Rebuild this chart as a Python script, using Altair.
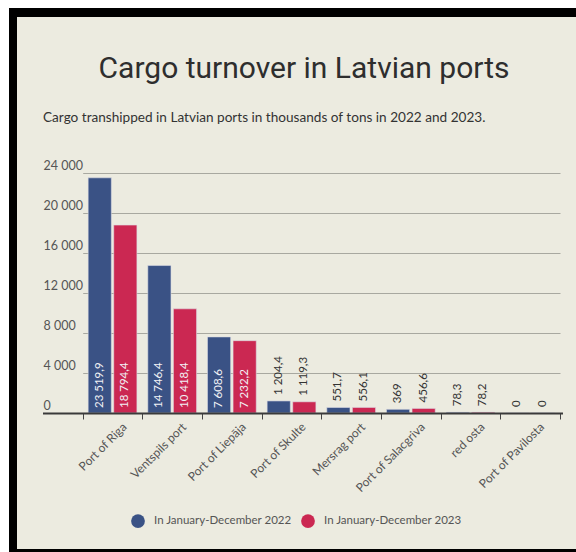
import altair as alt
import pandas as pd

# ---- data ----
ports = ["Port of Riga", "Ventspils port", "Port of Liepāja", "Port of Skulte",
         "Mersrag port", "Port of Salacgriva", "red osta", "Port of Pavilosta"]
values_2022 = [23519.9, 14746.4, 7608.6, 1204.4, 551.7, 369, 78.3, 0]
values_2023 = [18794.4, 10418.4, 7232.2, 1119.3, 556.1, 456.6, 78.2, 0]
series = ["In January-December 2022", "In January-December 2023"]
y_ticks = [0, 4000, 8000, 12000, 16000, 20000, 24000]
title_text = "Cargo turnover in Latvian ports"
subtitle_text = "Cargo transhipped in Latvian ports in thousands of tons in 2022 and 2023."

rows = []
for p, a, b in zip(ports, values_2022, values_2023):
    rows.append({"port": p, "series": series[0], "value": a})
    rows.append({"port": p, "series": series[1], "value": b})
df = pd.DataFrame(rows)

# ---- style ----
BLUE = "#3a5285"
RED = "#cb2852"
BG = "#ecebe0"
W, H = 520, 240
PAD = {"left": 43, "top": 173, "right": 13, "bottom": 139}

base = alt.Chart(df).transform_calculate(lab="datum.value")

x_axis = alt.Axis(title=None, domain=False, tickBand="extent", ticks=True,
                  tickSize=6, tickColor="#444", tickWidth=1,
                  labelAngle=-45, labelAlign="right", labelBaseline="top",
                  labelOffset=8, labelPadding=2, labelColor="#555",
                  labelFontSize=12, labelFont="Lato", grid=False,
                  labelOverlap=False)
x_scale = alt.Scale(range=[39.7, 517], paddingInner=0, paddingOuter=0)
x_enc = alt.X("port:N", sort=ports, scale=x_scale, axis=x_axis)

y_scale = alt.Scale(domain=[0, 24000], nice=False)
y_axis = alt.Axis(title=None, values=y_ticks, format=",.0f", domain=False,
                  ticks=False, tickSize=0, labelAlign="left", labelPadding=0,
                  labelBaseline="alphabetic", labelOffset=-4,
                  labelColor="#555", labelFontSize=12.5, labelFont="Lato",
                  labelOverlap=False,
                  grid=True, gridColor="#a8a8a0", gridWidth=1)
y_enc = alt.Y("value:Q", scale=y_scale, axis=y_axis)

xoff = alt.XOffset("series:N", sort=series,
                   scale=alt.Scale(paddingInner=0.094, paddingOuter=0.213))

bars = base.mark_bar(stroke="#dcdce4", strokeWidth=0.6).encode(
    x=x_enc, xOffset=xoff, y=y_enc,
    color=alt.Color("series:N",
                    scale=alt.Scale(domain=series, range=[BLUE, RED]),
                    legend=alt.Legend(title=None, orient="none", legendX=88,
                                      legendY=341, direction="horizontal",
                                      symbolType="circle", symbolSize=190,
                                      symbolStrokeWidth=0, labelFontSize=11.5,
                                      labelColor="#555", labelFont="Lato",
                                      columnPadding=9, labelOffset=9)),
)

label_text = alt.Text("lab:Q", format=",.1~f")

# large bars: label sits inside the bar, starting from the baseline
inside = base.transform_filter("datum.lab > 3000").transform_calculate(
    value="0"
).mark_text(
    angle=270, align="left", baseline="middle", dx=5,
    color="#f2f2f6", fontSize=11.5, font="Lato",
).encode(x=x_enc, xOffset=xoff, y=y_enc, text=label_text)

outside = base.transform_filter("datum.lab <= 3000").mark_text(
    angle=270, align="left", baseline="middle", dx=6,
    color="#333", fontSize=11.5, font="Lato",
).encode(x=x_enc, xOffset=xoff, y=y_enc, text=label_text)

one = pd.DataFrame({"k": [0]})

baseline_rule = alt.Chart(one).mark_rule(color="#3a3a3a", strokeWidth=2).encode(
    x=alt.value(0), x2=alt.value(W), y=alt.value(H + 0.5))

title = alt.Chart(pd.DataFrame({"t": [title_text]})).mark_text(
    align="center", baseline="alphabetic", fontSize=30,
    font="Roboto", fontWeight="normal",
    color="#2e2e2e",
).encode(x=alt.value(261), y=alt.value(-95), text="t:N")

subtitle = alt.Chart(pd.DataFrame({"t": [subtitle_text]})).mark_text(
    align="left", baseline="alphabetic", fontSize=13.6, font="Lato",
    color="#333",
).encode(x=alt.value(0), y=alt.value(-51), text="t:N")


def frame_rect(x1, x2, y1, y2, color):
    return alt.Chart(one).mark_rect(color=color).encode(
        x=alt.value(x1), x2=alt.value(x2), y=alt.value(y1), y2=alt.value(y2))


L, T = PAD["left"], PAD["top"]
frames = [
    frame_rect(-L, 576 - L, -T, -T + 8, "#ffffff"),
    frame_rect(-L, -L + 9, -T, 552 - T, "#ffffff"),
    frame_rect(-L + 9, 576 - L, -T + 8, -T + 17, "#000000"),
    frame_rect(-L + 9, -L + 17, -T + 8, 552 - T, "#000000"),
    frame_rect(-L + 9, 576 - L, 549 - T, 552 - T, "#000000"),
]

chart = alt.layer(
    *frames, bars, inside, outside, baseline_rule, title, subtitle
).properties(
    width=W, height=H, padding=PAD, background=BG,
    autosize=alt.AutoSizeParams(type="none"),
).configure(
    locale={"number": {"decimal": ",", "thousands": "\u00a0", "grouping": [3],
                       "currency": ["", ""]}},
    view={"stroke": "transparent", "strokeWidth": 0},
)

chart.save("out.html", embed_options={"renderer": "svg", "actions": False})
